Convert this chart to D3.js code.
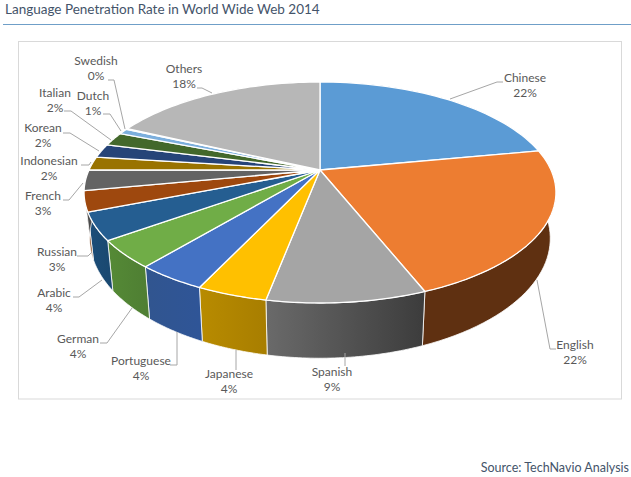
<!DOCTYPE html>
<html>
<head>
<meta charset="utf-8">
<script src="https://cdn.jsdelivr.net/npm/d3@7"></script>
<style>
  html, body { margin: 0; padding: 0; background: #fff; }
  svg { display: block; }
  text { font-family: Lato, "Open Sans", sans-serif; }
</style>
</head>
<body>
<svg id="chart" width="631" height="477"></svg>
<script>
const languages = ['Chinese', 'English', 'Spanish', 'Japanese', 'Portuguese', 'German', 'Arabic', 'Russian', 'French', 'Indonesian', 'Korean', 'Italian', 'Dutch', 'Swedish', 'Others'];
const shares = [22, 22, 9, 4, 4, 4, 4, 3, 3, 2, 2, 2, 0.85, 0.1, 18.05];

const topColors = ['#5b9bd5', '#ed7d31', '#a5a5a5', '#ffc000', '#4472c4', '#70ad47', '#255e91', '#9e480e', '#636363', '#997300', '#264478', '#43682b', '#7cafdd', '#f1975a', '#b7b7b7'];
// wall shading left -> right
const wallLeft = ['#3a6c99', '#5f3011', '#6a6a6a', '#b88b00', '#31558f', '#558a36', '#1d4e79', '#7a380b', '#4c4c4c', '#745700', '#1d3459', '#334f21', '#5f86a9', '#b87345', '#8c8c8c'];
const wallRight = ['#3a6c99', '#5f3011', '#3c3c3c', '#a87e00', '#2f5597', '#4f7f33', '#1a4971', '#7a380b', '#4c4c4c', '#745700', '#1d3459', '#334f21', '#5f86a9', '#b87345', '#8c8c8c'];

// [text centre x, first line baseline y]
const labelSpots = [[525, 82], [575, 349], [332, 376], [229, 378], [141, 365], [78, 343], [54, 297], [57, 256], [43, 200], [49, 165], [43, 132], [55, 97], [93, 100], [96, 65], [184, 73]];
const leaders = [
    [[503, 82], [497, 82], [450, 99]],
    [[556, 349], [550, 349], [537, 280]],
    [[345, 366], [345, 353]],
    [[236, 370], [236, 350]],
    [[170, 365], [177, 365], [177, 332]],
    [[100, 343], [107, 343], [132, 308]],
    [[73, 297], [79, 297], [102, 280]],
    [[77, 256], [88, 256], [92, 252]],
    [[63, 200], [69, 200], [83, 183]],
    [[81, 165], [89, 165], [91, 162]],
    [[63, 133], [70, 133], [99, 151]],
    [[64, 111], [71, 111], [111, 140]],
    [[103, 114], [110, 114], [121, 131]],
    [[108, 80], [114, 80], [125, 129]],
    [[197, 88], [202, 88], [212, 93]]
];

const svg = d3.select('#chart');
const titleColor = '#44546a';

svg.append('text')
    .attr('x', 5).attr('y', 14)
    .attr('font-size', 13.5).attr('fill', titleColor)
    .text('Language Penetration Rate in World Wide Web 2014');
svg.append('line')
    .attr('x1', 3).attr('x2', 631).attr('y1', 24.5).attr('y2', 24.5)
    .attr('stroke', '#6f9fc8').attr('stroke-width', 1);
svg.append('rect')
    .attr('x', 18.5).attr('y', 41.5).attr('width', 603).attr('height', 357.5)
    .attr('fill', '#fff').attr('stroke', '#d9d9d9');
svg.append('text')
    .attr('x', 629).attr('y', 472).attr('text-anchor', 'end')
    .attr('font-size', 12.5).attr('fill', titleColor)
    .text('Source: TechNavio Analysis');

// perspective view of the disc: the apex lands above the ellipse centre
const cx = 320, apexY = 170;
const persp = -0.2036, yScale = 71.3, xScale = 231, wallDrop = 44, wallShrink = 0.976;

const project = (angle, lower) => {
    const u = Math.sin(angle), v = -Math.cos(angle);
    const w = 1 + persp * v;
    const x = xScale * u / w, y = (yScale * v + apexY) / w;
    return lower ? [cx + x * wallShrink, y + wallDrop / w] : [cx + x, y];
};
const sampleAngles = (a, b) => d3.range(0, 41).map(i => a + (b - a) * i / 40);

const pie = d3.pie().sort(null).value(d => d.share);
const slices = pie(languages.map((name, i) => ({ name, share: shares[i], i })));
const line = d3.line();

const defs = svg.append('defs');
const walls = svg.append('g');
const tops = svg.append('g');

slices.forEach(s => {
    const i = s.data.i;
    const rim = sampleAngles(s.startAngle, s.endAngle);
    const upper = rim.map(a => project(a, false));
    const lower = rim.map(a => project(a, true));
    const xs = upper.map(p => p[0]);

    const grad = defs.append('linearGradient')
        .attr('id', `wall${i}`)
        .attr('gradientUnits', 'userSpaceOnUse')
        .attr('x1', d3.min(xs)).attr('x2', d3.max(xs)).attr('y1', 0).attr('y2', 0);
    grad.append('stop').attr('offset', 0).attr('stop-color', wallLeft[i]);
    grad.append('stop').attr('offset', 1).attr('stop-color', wallRight[i]);

    walls.append('path')
        .attr('d', line(upper.concat(lower.slice().reverse())) + 'Z')
        .attr('fill', `url(#wall${i})`)
        .attr('stroke', '#fff').attr('stroke-width', 0.8);

    tops.append('path')
        .attr('d', line([[cx, apexY]].concat(upper)) + 'Z')
        .attr('fill', topColors[i])
        .attr('stroke', '#fff').attr('stroke-width', 1.3)
        .attr('stroke-linejoin', 'round');
});

const labels = svg.append('g');
leaders.forEach(pts => {
    labels.append('path')
        .attr('d', line(pts))
        .attr('fill', 'none').attr('stroke', '#a6a6a6').attr('stroke-width', 1);
});
languages.forEach((name, i) => {
    const [x, y] = labelSpots[i];
    const t = labels.append('text')
        .attr('text-anchor', 'middle')
        .attr('font-size', 12).attr('fill', '#595959');
    t.append('tspan').attr('x', x).attr('y', y).text(name);
    t.append('tspan').attr('x', x).attr('y', y + 15).text(`${Math.round(shares[i])}%`);
});
</script>
</body>
</html>
